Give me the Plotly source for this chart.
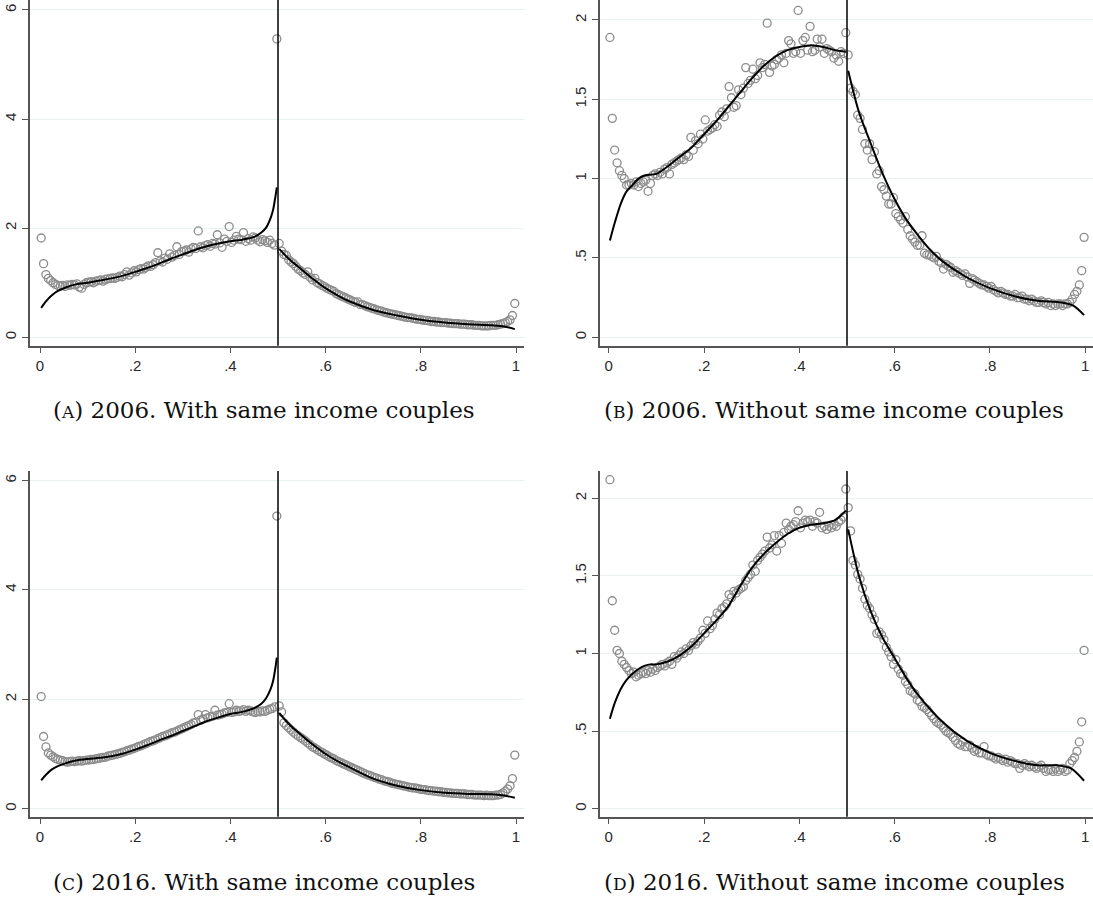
import numpy as np
import plotly.graph_objects as go

# ---------------- data ----------------
bins_left = [round(0.0025 + 0.005 * i, 4) for i in range(100)]
bins_right = [round(0.5025 + 0.005 * i, 4) for i in range(100)]

# Panel A: 2006, with same income couples
a_left = [1.82, 1.35, 1.15, 1.08, 1.04, 1.00, 0.97, 0.95, 0.94, 0.95,
          0.93, 0.96, 0.95, 0.97, 0.96, 0.98, 0.92, 0.90, 0.97, 1.00,
          1.01, 1.02, 1.00, 1.03, 1.04, 1.05, 1.03, 1.06, 1.07, 1.08,
          1.09, 1.08, 1.10, 1.12, 1.11, 1.15, 1.20, 1.14, 1.18, 1.22,
          1.20, 1.24, 1.26, 1.25, 1.28, 1.31, 1.30, 1.33, 1.37, 1.55,
          1.40, 1.38, 1.45, 1.43, 1.53, 1.47, 1.50, 1.66, 1.52, 1.57,
          1.58, 1.60, 1.56, 1.62, 1.65, 1.63, 1.95, 1.66, 1.64, 1.68,
          1.70, 1.67, 1.72, 1.71, 1.88, 1.73, 1.65, 1.80, 1.76, 2.03,
          1.74, 1.78, 1.85, 1.80, 1.79, 1.92, 1.76, 1.81, 1.78, 1.84,
          1.82, 1.78, 1.75, 1.79, 1.77, 1.74, 1.78, 1.72, 1.69, 5.47]
a_right = [1.72, 1.58, 1.52, 1.50, 1.42, 1.38, 1.35, 1.30, 1.25, 1.22,
           1.18, 1.15, 1.20, 1.10, 1.05, 1.08, 1.00, 0.98, 0.95, 0.93,
           0.90, 0.88, 0.86, 0.84, 0.80, 0.78, 0.76, 0.74, 0.72, 0.70,
           0.68, 0.66, 0.64, 0.65, 0.60, 0.60, 0.58, 0.56, 0.55, 0.53,
           0.52, 0.50, 0.49, 0.48, 0.46, 0.45, 0.44, 0.43, 0.42, 0.41,
           0.40, 0.39, 0.38, 0.37, 0.36, 0.36, 0.35, 0.34, 0.33, 0.33,
           0.32, 0.31, 0.31, 0.30, 0.29, 0.29, 0.28, 0.28, 0.27, 0.27,
           0.27, 0.26, 0.26, 0.25, 0.25, 0.25, 0.24, 0.24, 0.24, 0.23,
           0.23, 0.23, 0.22, 0.22, 0.22, 0.21, 0.21, 0.21, 0.21, 0.22,
           0.22, 0.22, 0.23, 0.24, 0.25, 0.27, 0.29, 0.32, 0.40, 0.62]
a_fit_lx = [0.0025, 0.0125, 0.025, 0.0375, 0.05, 0.075, 0.1, 0.125, 0.15, 0.175, 0.2, 0.225,
            0.25, 0.275, 0.3, 0.325, 0.35, 0.375, 0.4, 0.425, 0.45, 0.465, 0.475, 0.485,
            0.49, 0.495, 0.4975]
a_fit_ly = [0.54, 0.66, 0.77, 0.85, 0.90, 0.97, 1.00, 1.04, 1.08, 1.13, 1.20, 1.27,
            1.35, 1.44, 1.52, 1.60, 1.67, 1.72, 1.76, 1.79, 1.84, 1.92, 2.01, 2.2,
            2.35, 2.6, 2.75]
a_fit_rx = [0.5025, 0.525, 0.55, 0.575, 0.6, 0.625, 0.65, 0.7, 0.75, 0.8, 0.85, 0.9, 0.95, 0.975, 0.9975]
a_fit_ry = [1.62, 1.42, 1.24, 1.06, 0.90, 0.77, 0.66, 0.50, 0.40, 0.32, 0.27, 0.24, 0.22, 0.20, 0.15]

# Panel B: 2006, without same income couples
b_left = [1.89, 1.38, 1.18, 1.10, 1.05, 1.02, 1.00, 0.96, 0.96, 0.97,
          0.96, 0.98, 0.95, 0.97, 0.98, 0.99, 0.92, 0.97, 1.02, 1.03,
          1.02, 1.04, 1.03, 1.06, 1.07, 1.03, 1.09, 1.10, 1.11, 1.12,
          1.13, 1.12, 1.15, 1.14, 1.26, 1.18, 1.24, 1.22, 1.28, 1.25,
          1.37, 1.30, 1.31, 1.32, 1.34, 1.33, 1.40, 1.42, 1.39, 1.44,
          1.58, 1.51, 1.45, 1.46, 1.56, 1.53, 1.57, 1.70, 1.60, 1.62,
          1.69, 1.63, 1.65, 1.73, 1.70, 1.72, 1.98, 1.67, 1.71, 1.72,
          1.75, 1.76, 1.78, 1.73, 1.79, 1.87, 1.85, 1.79, 1.80, 2.06,
          1.79, 1.87, 1.89, 1.81, 1.96, 1.80, 1.81, 1.88, 1.83, 1.88,
          1.79, 1.82, 1.81, 1.80, 1.76, 1.78, 1.74, 1.80, 1.79, 1.92]
b_right = [1.78, 1.57, 1.55, 1.53, 1.40, 1.38, 1.31, 1.22, 1.18, 1.22,
           1.12, 1.17, 1.03, 1.05, 0.95, 0.93, 0.89, 0.84, 0.84, 0.88,
           0.78, 0.76, 0.74, 0.72, 0.76, 0.68, 0.64, 0.62, 0.60, 0.58,
           0.58, 0.64, 0.53, 0.52, 0.52, 0.51, 0.50, 0.51, 0.48, 0.47,
           0.43, 0.46, 0.45, 0.44, 0.41, 0.42, 0.41, 0.40, 0.39, 0.40,
           0.38, 0.34, 0.37, 0.36, 0.35, 0.34, 0.33, 0.33, 0.32, 0.31,
           0.32, 0.30, 0.29, 0.28, 0.29, 0.28, 0.27, 0.27, 0.26, 0.26,
           0.27, 0.25, 0.25, 0.26, 0.24, 0.24, 0.23, 0.24, 0.23, 0.22,
           0.22, 0.23, 0.22, 0.21, 0.22, 0.20, 0.21, 0.20, 0.21, 0.21,
           0.20, 0.21, 0.21, 0.22, 0.24, 0.27, 0.29, 0.33, 0.42, 0.63]
b_fit_lx = [0.0025, 0.0125, 0.025, 0.0375, 0.05, 0.0625, 0.075, 0.1, 0.125, 0.15, 0.175, 0.2,
            0.225, 0.25, 0.275, 0.3, 0.325, 0.35, 0.375, 0.4, 0.425, 0.45, 0.475, 0.4975]
b_fit_ly = [0.61, 0.72, 0.84, 0.92, 0.96, 1.00, 1.02, 1.03, 1.08, 1.14, 1.20, 1.28,
            1.36, 1.45, 1.54, 1.63, 1.71, 1.77, 1.81, 1.83, 1.84, 1.83, 1.81, 1.80]
b_fit_rx = [0.5025, 0.525, 0.55, 0.575, 0.6, 0.625, 0.65, 0.675, 0.7, 0.75, 0.8, 0.85, 0.9, 0.95, 0.975, 0.9975]
b_fit_ry = [1.68, 1.42, 1.22, 1.03, 0.87, 0.74, 0.64, 0.55, 0.48, 0.38, 0.31, 0.26, 0.23, 0.22, 0.20, 0.14]

# Panel C: 2016, with same income couples
c_left = [2.05, 1.32, 1.13, 1.02, 0.98, 0.95, 0.92, 0.90, 0.89, 0.88,
          0.86, 0.85, 0.86, 0.87, 0.86, 0.87, 0.88, 0.87, 0.88, 0.89,
          0.89, 0.90, 0.90, 0.91, 0.92, 0.93, 0.94, 0.94, 0.96, 0.97,
          0.98, 0.99, 1.00, 1.01, 1.03, 1.04, 1.06, 1.07, 1.09, 1.10,
          1.12, 1.14, 1.15, 1.17, 1.19, 1.21, 1.23, 1.24, 1.26, 1.28,
          1.30, 1.32, 1.33, 1.35, 1.37, 1.39, 1.40, 1.42, 1.44, 1.46,
          1.48, 1.50, 1.52, 1.54, 1.57, 1.58, 1.72, 1.62, 1.64, 1.72,
          1.66, 1.68, 1.69, 1.80, 1.71, 1.72, 1.73, 1.75, 1.76, 1.92,
          1.76, 1.77, 1.80, 1.78, 1.79, 1.81, 1.78, 1.80, 1.79, 1.77,
          1.76, 1.78, 1.77, 1.79, 1.78, 1.80, 1.82, 1.83, 1.86, 5.35]
c_right = [1.88, 1.77, 1.57, 1.52, 1.48, 1.44, 1.40, 1.36, 1.33, 1.30,
           1.27, 1.24, 1.20, 1.17, 1.13, 1.11, 1.08, 1.05, 1.03, 1.00,
           0.98, 0.95, 0.93, 0.91, 0.88, 0.86, 0.84, 0.82, 0.80, 0.78,
           0.76, 0.74, 0.72, 0.70, 0.68, 0.66, 0.64, 0.62, 0.61, 0.59,
           0.57, 0.56, 0.54, 0.53, 0.51, 0.50, 0.49, 0.47, 0.46, 0.45,
           0.44, 0.43, 0.42, 0.41, 0.40, 0.39, 0.38, 0.38, 0.37, 0.36,
           0.35, 0.35, 0.34, 0.33, 0.33, 0.32, 0.32, 0.31, 0.31, 0.30,
           0.30, 0.29, 0.29, 0.28, 0.28, 0.28, 0.27, 0.27, 0.27, 0.26,
           0.26, 0.26, 0.25, 0.25, 0.25, 0.25, 0.24, 0.25, 0.24, 0.24,
           0.24, 0.25, 0.25, 0.26, 0.29, 0.32, 0.36, 0.42, 0.55, 0.98]
c_fit_lx = [0.0025, 0.0125, 0.025, 0.0375, 0.05, 0.075, 0.1, 0.125, 0.15, 0.175, 0.2, 0.225,
            0.25, 0.275, 0.3, 0.325, 0.35, 0.375, 0.4, 0.425, 0.45, 0.465, 0.475, 0.485,
            0.49, 0.495, 0.4975]
c_fit_ly = [0.52, 0.62, 0.72, 0.78, 0.82, 0.88, 0.91, 0.93, 0.96, 1.01, 1.08, 1.16,
            1.25, 1.33, 1.42, 1.51, 1.60, 1.67, 1.73, 1.77, 1.84, 1.92, 2.02, 2.2,
            2.35, 2.6, 2.76]
c_fit_rx = [0.5025, 0.525, 0.55, 0.575, 0.6, 0.625, 0.65, 0.7, 0.75, 0.8, 0.85, 0.9, 0.95, 0.975, 0.9975]
c_fit_ry = [1.75, 1.53, 1.34, 1.16, 1.00, 0.87, 0.76, 0.55, 0.42, 0.34, 0.29, 0.27, 0.265, 0.24, 0.20]

# Panel D: 2016, without same income couples
d_left = [2.12, 1.34, 1.15, 1.02, 1.00, 0.95, 0.93, 0.91, 0.89, 0.87,
          0.88, 0.85, 0.86, 0.87, 0.88, 0.87, 0.89, 0.88, 0.90, 0.89,
          0.91, 0.92, 0.93, 0.92, 0.94, 0.95, 0.93, 0.98, 0.97, 0.99,
          1.01, 1.00, 1.03, 1.02, 1.05, 1.07, 1.06, 1.08, 1.10, 1.15,
          1.13, 1.21, 1.16, 1.18, 1.22, 1.26, 1.25, 1.29, 1.30, 1.32,
          1.38, 1.36, 1.40, 1.39, 1.41, 1.42, 1.43, 1.47, 1.49, 1.51,
          1.57, 1.53, 1.60, 1.62, 1.64, 1.66, 1.75, 1.68, 1.70, 1.76,
          1.66, 1.76, 1.71, 1.78, 1.84, 1.80, 1.82, 1.83, 1.85, 1.92,
          1.81, 1.84, 1.86, 1.85, 1.86, 1.82, 1.85, 1.84, 1.91, 1.81,
          1.82, 1.80, 1.82, 1.81, 1.83, 1.82, 1.85, 1.86, 1.88, 2.06]
d_right = [1.94, 1.79, 1.60, 1.57, 1.51, 1.48, 1.42, 1.35, 1.31, 1.29,
           1.25, 1.22, 1.13, 1.14, 1.12, 1.09, 1.04, 1.01, 0.98, 0.93,
           0.96, 0.90, 0.87, 0.86, 0.82, 0.80, 0.76, 0.75, 0.74, 0.70,
           0.69, 0.66, 0.65, 0.64, 0.62, 0.60, 0.58, 0.56, 0.55, 0.54,
           0.52, 0.50, 0.49, 0.48, 0.46, 0.44, 0.42, 0.41, 0.43, 0.40,
           0.40, 0.41, 0.39, 0.37, 0.38, 0.36, 0.36, 0.40, 0.35, 0.34,
           0.34, 0.33, 0.32, 0.33, 0.32, 0.31, 0.32, 0.30, 0.31, 0.30,
           0.29, 0.29, 0.26, 0.28, 0.29, 0.28, 0.27, 0.28, 0.27, 0.26,
           0.27, 0.28, 0.26, 0.24, 0.25, 0.25, 0.24, 0.26, 0.24, 0.25,
           0.26, 0.24, 0.25, 0.29, 0.31, 0.33, 0.37, 0.43, 0.56, 1.02]
d_fit_lx = [0.0025, 0.0125, 0.025, 0.0375, 0.05, 0.0625, 0.075, 0.0875, 0.1, 0.125, 0.15, 0.175,
            0.2, 0.225, 0.25, 0.275, 0.3, 0.325, 0.35, 0.375, 0.4, 0.425, 0.45, 0.475, 0.4975]
d_fit_ly = [0.58, 0.68, 0.77, 0.83, 0.87, 0.90, 0.92, 0.93, 0.93, 0.95, 0.99, 1.05,
            1.13, 1.21, 1.30, 1.43, 1.55, 1.64, 1.71, 1.77, 1.81, 1.83, 1.84, 1.86, 1.92]
d_fit_rx = [0.5025, 0.525, 0.55, 0.575, 0.6, 0.625, 0.65, 0.7, 0.75, 0.8, 0.85, 0.9, 0.94, 0.97, 0.9975]
d_fit_ry = [1.80, 1.50, 1.27, 1.10, 0.97, 0.84, 0.73, 0.56, 0.44, 0.36, 0.31, 0.28, 0.28, 0.26, 0.18]

x_tickvals = [0, 0.2, 0.4, 0.6, 0.8, 1]
x_ticktext = ["0", ".2", ".4", ".6", ".8", "1"]
y_tick_with = [0, 2, 4, 6]
y_text_with = ["0", "2", "4", "6"]
y_tick_without = [0, 0.5, 1, 1.5, 2]
y_text_without = ["0", ".5", "1", "1.5", "2"]

SC = "<span style='font-size:17px'>{}</span>"
captions = [
    "(" + SC.format("A") + ") 2006. With same income couples",
    "(" + SC.format("B") + ") 2006. Without same income couples",
    "(" + SC.format("C") + ") 2016. With same income couples",
    "(" + SC.format("D") + ") 2016. Without same income couples",
]

# ---------------- layout geometry ----------------
W, H = 1093, 898
panels = [
    dict(pts=(a_left, a_right), fit=(a_fit_lx, a_fit_ly, a_fit_rx, a_fit_ry),
         xd=(30, 524), yd=(0, 345.7), xr=[-0.021, 1.0168], yr=[-0.154, 6.183],
         yt=(y_tick_with, y_text_with), cap_x=264, cap_y=410),
    dict(pts=(b_left, b_right), fit=(b_fit_lx, b_fit_ly, b_fit_rx, b_fit_ry),
         xd=(600, 1093), yd=(0, 345.7), xr=[-0.0183, 1.0162], yr=[-0.053, 2.126],
         yt=(y_tick_without, y_text_without), cap_x=834, cap_y=410),
    dict(pts=(c_left, c_right), fit=(c_fit_lx, c_fit_ly, c_fit_rx, c_fit_ry),
         xd=(30, 524), yd=(471, 816.7), xr=[-0.021, 1.0168], yr=[-0.146, 6.174],
         yt=(y_tick_with, y_text_with), cap_x=264, cap_y=882),
    dict(pts=(d_left, d_right), fit=(d_fit_lx, d_fit_ly, d_fit_rx, d_fit_ry),
         xd=(600, 1093), yd=(471, 816.7), xr=[-0.0183, 1.0162], yr=[-0.0515, 2.176],
         yt=(y_tick_without, y_text_without), cap_x=834, cap_y=882),
]

fig = go.Figure()
marker = dict(symbol="circle-open", size=8, color="#8c8c8c", line=dict(width=1.3, color="#8c8c8c"))
tickfont = dict(family="Arial, Liberation Sans, sans-serif", size=15, color="#2a2a2a")

for k, p in enumerate(panels):
    n = "" if k == 0 else str(k + 1)
    xa, ya = "x" + n, "y" + n
    left, right = p["pts"]
    fig.add_trace(go.Scatter(x=bins_left + bins_right, y=left + right, mode="markers",
                             marker=marker, xaxis=xa, yaxis=ya, showlegend=False))
    lx, ly, rx, ry = p["fit"]
    for fx, fy in ((lx, ly), (rx, ry)):
        fig.add_trace(go.Scatter(x=fx, y=fy, mode="lines",
                                 line=dict(color="black", width=2, shape="spline", smoothing=0.8),
                                 xaxis=xa, yaxis=ya, showlegend=False))
    xdom = [p["xd"][0] / W, min(p["xd"][1] / W, 1.0)]
    ydom = [1 - p["yd"][1] / H, 1 - p["yd"][0] / H]
    fig.layout["xaxis" + n] = dict(
        domain=xdom, range=p["xr"], anchor=ya, tickvals=x_tickvals, ticktext=x_ticktext,
        showgrid=False, zeroline=False, showline=True, linecolor="#555555", linewidth=1.5,
        ticks="outside", ticklen=6, tickcolor="#555555", tickwidth=1, tickfont=tickfont)
    fig.layout["yaxis" + n] = dict(
        domain=ydom, range=p["yr"], anchor=xa, tickvals=p["yt"][0], ticktext=p["yt"][1],
        showgrid=True, gridcolor="#e8f0f2", gridwidth=1, zeroline=False,
        showline=True, linecolor="#555555", linewidth=1.5,
        ticks="outside", ticklen=6, tickcolor="#555555", tickwidth=1,
        tickangle=-90, tickfont=tickfont)
    fig.add_shape(type="line", xref=xa, yref=ya + " domain", x0=0.5, x1=0.5, y0=0, y1=1,
                  line=dict(color="black", width=1.5))
    fig.add_annotation(text=captions[k], xref="paper", yref="paper",
                       x=p["cap_x"] / W, y=1 - p["cap_y"] / H, showarrow=False,
                       xanchor="center", yanchor="middle",
                       font=dict(family="DejaVu Serif, serif", size=23, color="#111111"))

fig.update_layout(width=W, height=H, margin=dict(l=0, r=0, t=0, b=0),
                  paper_bgcolor="white", plot_bgcolor="white", hovermode=False)
fig.write_html("out.html", config={"displayModeBar": False},
               post_script="document.body.style.margin='0';document.body.style.overflow='hidden';")
